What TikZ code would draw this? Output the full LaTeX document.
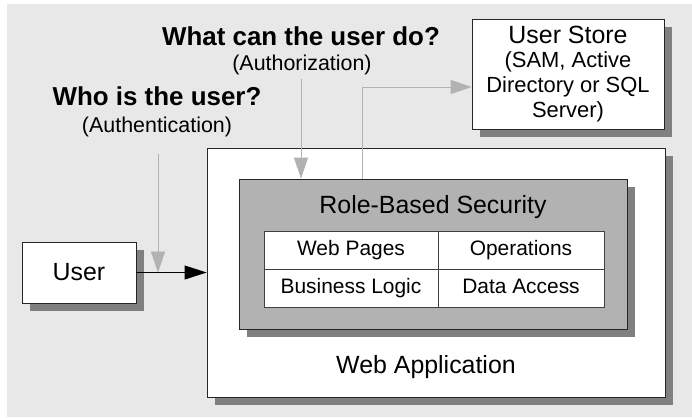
\documentclass[tikz,border=0pt]{standalone}
\usepackage{fontspec}
\setmainfont{Liberation Sans}
\usetikzlibrary{arrows.meta,shadows}

\begin{document}
\begin{tikzpicture}[x=1bp,y=-1bp,
  box/.style={draw=black!85,line width=0.8bp,fill=white,inner sep=0pt,
    drop shadow={shadow xshift=8bp,shadow yshift=-8bp,fill=black!50,opacity=1}},
  cell/.style={draw=black!75,line width=0.8bp,fill=white,minimum height=38bp,inner sep=0pt,
    text height=15bp,text depth=5bp,font=\fontsize{21}{24}\selectfont},
  big/.style={font=\fontsize{25}{28}\selectfont,anchor=base},
  ask/.style={font=\fontsize{26}{30}\selectfont\bfseries,anchor=base},
  why/.style={font=\fontsize{21.5}{24}\selectfont,anchor=base},
  flow/.style={draw=black!30,line width=0.8bp,-{Triangle[length=21bp,width=14bp,fill=black!30]}},
  call/.style={draw=black,line width=0.8bp,-{Triangle[length=22bp,width=14bp]}}]
\useasboundingbox (0,0) rectangle (692,417);
\fill[black!9] (7,4) rectangle (692,417);

% boxes
\node[box,minimum width=458bp,minimum height=249bp] (webapp) at (436,272.5) {};
\node[big] (webapptext) at (426,373) {Web Application};
\node[box,fill=black!30,minimum width=388bp,minimum height=150bp] (role) at (433,254) {};
\node[big] (roletext) at (433,213) {Role-Based Security};
\node[cell,minimum width=174bp] (pages) at (351,250) {Web Pages};
\node[cell,minimum width=166bp] (ops) at (521,250) {Operations};
\node[cell,minimum width=174bp] (logic) at (351,288) {Business Logic};
\node[cell,minimum width=166bp] (data) at (521,288) {Data Access};

\node[box,minimum width=114bp,minimum height=61bp,font=\fontsize{25}{28}\selectfont] (user) at (79,272.5) {User};
\node[box,minimum width=192bp,minimum height=110bp,align=center,font=\fontsize{22}{25}\selectfont] (store) at (568,74)
  {{\fontsize{25}{28}\selectfont User Store}\\(SAM, Active\\Directory or SQL\\Server)};

% questions
\node[ask] (whatq) at (301,45) {What can the user do?};
\node[why] (authz) at (302,70) {(Authorization)};
\node[ask] (whoq) at (157,105) {Who is the user?};
\node[why] (authn) at (157,132) {(Authentication)};

% connectors
\coordinate (authntop) at (158,154);
\coordinate (authztop) at (301,79);
\coordinate (bend) at (362,87);
\draw[call] (user) -- (webapp.west);
\draw[flow] (authntop) -- (authntop |- user.east);
\draw[flow] (authztop) -- (authztop |- role.north);
\draw[flow] (bend |- role.north) -- (bend) -- (bend -| store.west);
\end{tikzpicture}
\end{document}
